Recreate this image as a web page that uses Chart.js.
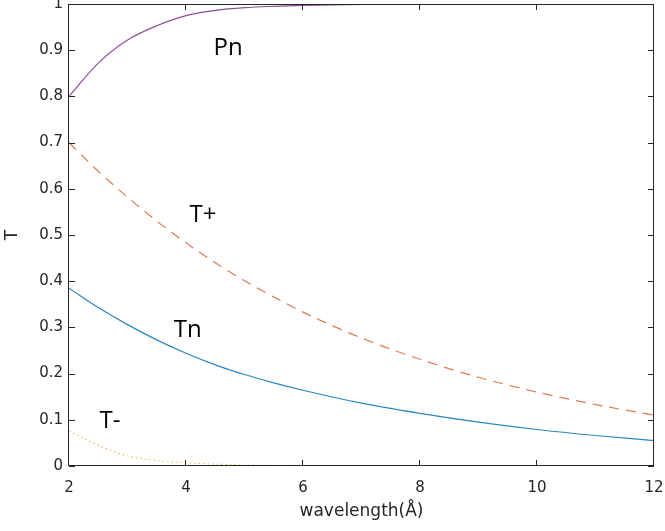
<!DOCTYPE html>
<html>
<head>
<meta charset="utf-8">
<script src="https://cdn.jsdelivr.net/npm/chart.js@4"></script>
<style>
  html, body { margin: 0; padding: 0; background: #fff; }
</style>
</head>
<body>
<canvas id="myChart" width="665" height="531"></canvas>
<script>

// values
let wavelength = [2, 2.5, 3, 3.5, 4, 4.5, 5, 5.5, 6, 7, 8, 9, 10, 11, 12];
let pn     = [0.800, 0.872, 0.922, 0.953, 0.975, 0.986, 0.992, 0.995, 0.997, 0.999, 1, 1, 1, 1, 1];
let tPlus  = [0.700, 0.638, 0.582, 0.530, 0.483, 0.440, 0.401, 0.366, 0.333, 0.277, 0.231, 0.192, 0.160, 0.133, 0.110];
let tn     = [0.385, 0.343, 0.306, 0.273, 0.244, 0.219, 0.198, 0.180, 0.164, 0.136, 0.114, 0.095, 0.079, 0.066, 0.055];
let tMinus = [0.075, 0.045, 0.022, 0.012, 0.007, 0.004, 0.002, 0.0015, 0.001, 0, 0, 0, 0, 0, 0];

let xTicks = [2, 4, 6, 8, 10, 12];
let yTicks = [0, 0.1, 0.2, 0.3, 0.4, 0.5, 0.6, 0.7, 0.8, 0.9, 1];

// curve names written next to the lines (x, y in data units)
let curveNotes = [
  { text: 'Pn', x: 4.72, y: 0.905 },
  { text: 'T+', x: 4.29, y: 0.543 },
  { text: 'Tn', x: 4.03, y: 0.295 },
  { text: 'T-', x: 2.7,  y: 0.096 }
];

function pts(ys) {
  return wavelength.map((w, i) => ({ x: w, y: ys[i] }));
}

const axisColor = '#262626';

// matlab style box with inward ticks + the curve names
let boxPlugin = {
  id: 'boxPlugin',
  afterDraw(chart) {
    const { ctx, chartArea: a, scales: { x, y } } = chart;
    ctx.save();
    ctx.strokeStyle = axisColor;
    ctx.lineWidth = 1;
    ctx.beginPath();
    ctx.rect(a.left - 0.5, a.top + 0.5, a.right - a.left, a.bottom - a.top - 1);
    ctx.stroke();

    ctx.beginPath();
    xTicks.forEach(v => {
      const px = Math.round(x.getPixelForValue(v)) - 0.5;
      ctx.moveTo(px, a.bottom); ctx.lineTo(px, a.bottom - 6);
      ctx.moveTo(px, a.top);    ctx.lineTo(px, a.top + 6);
    });
    yTicks.forEach(v => {
      const py = Math.round(y.getPixelForValue(v)) + 0.5;
      ctx.moveTo(a.left, py);  ctx.lineTo(a.left + 6, py);
      ctx.moveTo(a.right, py); ctx.lineTo(a.right - 6, py);
    });
    ctx.stroke();

    ctx.fillStyle = '#000';
    ctx.font = '24px "Open Sans"';
    ctx.textAlign = 'center';
    ctx.textBaseline = 'middle';
    curveNotes.forEach(n => {
      ctx.fillText(n.text, x.getPixelForValue(n.x), y.getPixelForValue(n.y));
    });
    ctx.restore();
  }
};

let myChart = document.getElementById('myChart').getContext('2d');

let chart = new Chart(myChart, {
  type: 'line',
  data: {
    datasets: [
      {
        label: 'Pn',
        data: pts(pn),
        borderColor: '#8a4f94',
        borderWidth: 1.2
      },
      {
        label: 'T+',
        data: pts(tPlus),
        borderColor: '#dc7a52',
        borderWidth: 1.2,
        borderDash: [10, 7]
      },
      {
        label: 'Tn',
        data: pts(tn),
        borderColor: '#2a86c4',
        borderWidth: 1.2
      },
      {
        label: 'T-',
        data: pts(tMinus),
        borderColor: '#e8c060',
        borderWidth: 1.2,
        borderDash: [1.5, 3]
      }
    ]
  },
  options: {
    responsive: false,
    animation: false,
    events: [],
    elements: {
      point: { radius: 0 },
      line: { cubicInterpolationMode: 'monotone', fill: false }
    },
    layout: { padding: { top: 4, right: 11, left: 0, bottom: 0 } },
    plugins: {
      legend: { display: false },
      tooltip: { enabled: false }
    },
    scales: {
      x: {
        type: 'linear',
        min: 2,
        max: 12,
        grid: { display: false, drawTicks: false, tickLength: 0 },
        border: { display: false },
        afterBuildTicks: s => { s.ticks = xTicks.map(v => ({ value: v })); },
        afterFit: s => { s.height = 65; s.paddingLeft = 0; s.paddingRight = 0; },
        ticks: {
          color: axisColor,
          padding: 13,
          maxRotation: 0,
          font: { family: 'DejaVu Sans', size: 15 }
        },
        title: {
          display: true,
          text: 'wavelength(Å)',
          color: axisColor,
          font: { family: 'DejaVu Sans', size: 17 },
          padding: { top: 0, bottom: 9 }
        }
      },
      y: {
        min: 0,
        max: 1,
        grid: { display: false, drawTicks: false, tickLength: 0 },
        border: { display: false },
        afterBuildTicks: s => { s.ticks = yTicks.map(v => ({ value: v })); },
        afterFit: s => { s.width = 69; s.paddingTop = 0; s.paddingBottom = 0; },
        ticks: {
          color: axisColor,
          padding: 6,
          font: { family: 'DejaVu Sans', size: 15 },
          callback: v => String(Number(v.toFixed(2)))
        },
        title: {
          display: true,
          text: 'T',
          color: axisColor,
          font: { family: 'DejaVu Sans', size: 17 },
          padding: { top: 2, bottom: 0 }
        }
      }
    }
  },
  plugins: [boxPlugin]
});

</script>
</body>
</html>
